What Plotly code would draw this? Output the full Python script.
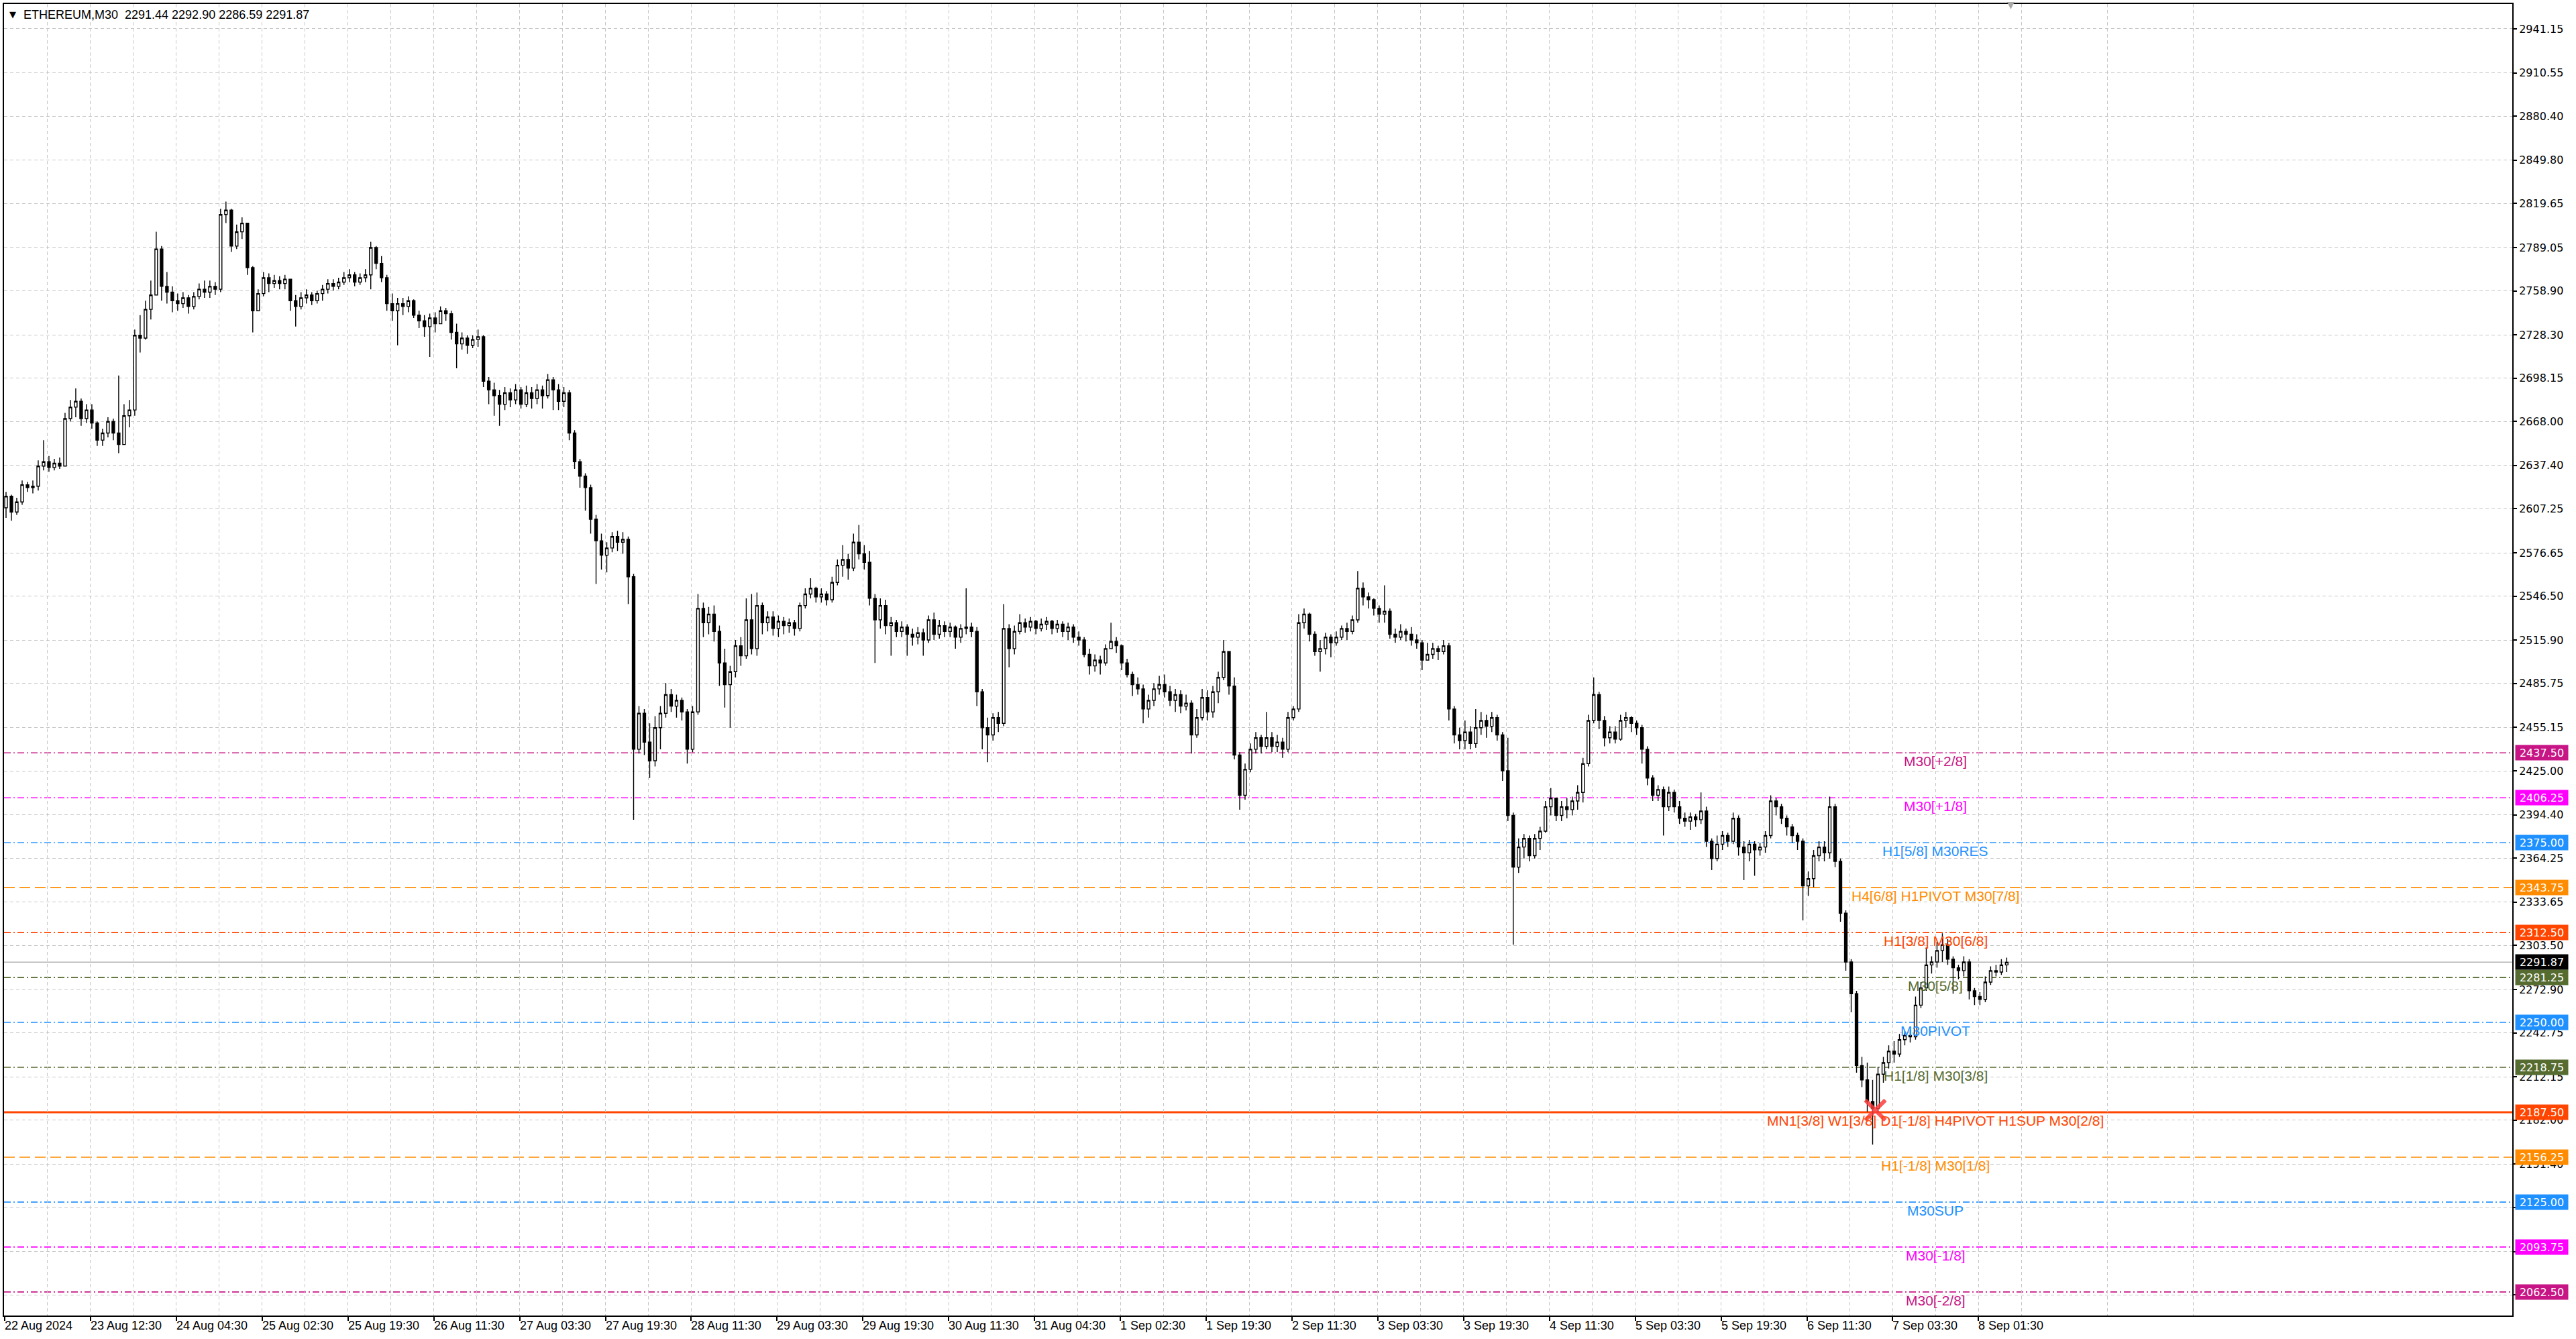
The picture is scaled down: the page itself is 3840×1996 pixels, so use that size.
import plotly.graph_objects as go

# ---------------- data (hourly candles over the M30 bar grid) ----------------
first_open = 2608

close_prices = [
    2616, 2605, 2612, 2624, 2622, 2623, 2637, 2640, 2636, 2639, 2637, 2670, 2678, 2682, 2670, 2676,
    2667, 2655, 2660, 2668, 2660, 2652, 2672, 2676, 2728, 2726, 2746, 2756, 2788, 2762, 2758, 2752,
    2750, 2754, 2748, 2755, 2760, 2758, 2762, 2760, 2812, 2815, 2790, 2800, 2806, 2775, 2745, 2757,
    2768, 2764, 2766, 2764, 2767, 2752, 2748, 2754, 2756, 2752, 2757, 2760, 2764, 2762, 2765, 2768,
    2770, 2765, 2768, 2770, 2789, 2778, 2768, 2750, 2745, 2750, 2748, 2752, 2742, 2738, 2734, 2740,
    2736, 2745, 2743, 2730, 2722, 2726, 2721, 2725, 2727, 2696, 2690, 2686, 2680, 2688, 2683, 2690,
    2680, 2688, 2684, 2690, 2686, 2697, 2690, 2682, 2688, 2660, 2640, 2630, 2622, 2600, 2585, 2575,
    2580, 2588, 2584, 2586, 2560, 2440, 2465, 2445, 2432, 2455, 2465, 2478, 2470, 2474, 2466, 2440,
    2466, 2538, 2528, 2534, 2522, 2500, 2485, 2494, 2512, 2505, 2530, 2510, 2540, 2528, 2532, 2524,
    2529, 2526, 2528, 2524, 2540, 2548, 2552, 2546, 2548, 2544, 2556, 2568, 2572, 2566, 2584, 2576,
    2570, 2545, 2530, 2540, 2526, 2528, 2522, 2525, 2520, 2518, 2521, 2516, 2530, 2520, 2526, 2522,
    2525, 2518, 2524, 2525, 2522, 2480, 2455, 2450, 2462, 2458, 2524, 2510, 2522, 2528, 2525, 2529,
    2524, 2527, 2529, 2524, 2527, 2522, 2525, 2518, 2516, 2506, 2498, 2502, 2500, 2510, 2515, 2512,
    2500, 2492, 2485, 2482, 2468, 2474, 2482, 2485, 2480, 2474, 2478, 2470, 2472, 2450, 2462, 2476,
    2466, 2480, 2490, 2508, 2484, 2436, 2408, 2426, 2440, 2448, 2442, 2448, 2442, 2445, 2440, 2462,
    2468, 2528, 2534, 2520, 2508, 2510, 2518, 2514, 2518, 2524, 2522, 2530, 2552, 2546, 2544, 2538,
    2534, 2536, 2520, 2518, 2522, 2520, 2516, 2514, 2502, 2506, 2510, 2508, 2512, 2468, 2450, 2446,
    2452, 2444, 2455, 2460, 2456, 2462, 2450, 2425, 2394, 2358, 2372, 2378, 2366, 2378, 2383, 2400,
    2406, 2394, 2400, 2398, 2404, 2410, 2430, 2460, 2478, 2460, 2448, 2452, 2447, 2460, 2462, 2458,
    2455, 2440, 2420, 2408, 2412, 2400, 2410, 2400, 2392, 2390, 2393, 2391, 2397, 2376, 2364, 2374,
    2380, 2376, 2392, 2372, 2368, 2374, 2370, 2372, 2380, 2404, 2400, 2392, 2386, 2380, 2376, 2345,
    2350, 2366, 2372, 2368, 2400, 2362, 2326, 2292, 2270, 2220, 2210, 2195, 2190, 2214, 2222, 2230,
    2228, 2238, 2241, 2240, 2262, 2274, 2290, 2292, 2300, 2304, 2294, 2288, 2286, 2292, 2272, 2268,
    2266, 2278, 2286, 2285, 2290, 2291.87,
]

high_prices = [
    2619, 2617, 2615, 2627, 2626, 2627, 2641, 2655, 2644, 2642, 2643, 2674, 2683, 2691, 2684, 2680,
    2680, 2668, 2663, 2671, 2670, 2700, 2680, 2683, 2732, 2742, 2752, 2766, 2800, 2790, 2772, 2762,
    2757, 2758, 2756, 2758, 2764, 2766, 2766, 2765, 2816, 2821, 2816, 2805, 2810, 2806, 2776, 2760,
    2772, 2771, 2770, 2769, 2770, 2766, 2756, 2758, 2760, 2758, 2759, 2763, 2767, 2767, 2768, 2772,
    2774, 2772, 2771, 2774, 2793, 2790, 2783, 2770, 2757, 2754, 2754, 2755, 2753, 2745, 2742, 2743,
    2744, 2748, 2747, 2745, 2736, 2730, 2728, 2728, 2732, 2728, 2699, 2695, 2690, 2692, 2691, 2694,
    2692, 2693, 2692, 2694, 2693, 2701, 2699, 2694, 2692, 2690, 2662, 2642, 2632, 2624, 2603, 2590,
    2584, 2591, 2592, 2591, 2588, 2562, 2470, 2468, 2458, 2463, 2470, 2486, 2482, 2478, 2476, 2468,
    2470, 2548, 2542, 2539, 2540, 2526, 2510, 2498, 2516, 2518, 2545, 2548, 2549, 2542, 2536, 2536,
    2533, 2532, 2531, 2530, 2542, 2552, 2559, 2553, 2552, 2550, 2560, 2572, 2582, 2576, 2590, 2596,
    2582, 2578, 2548, 2545, 2544, 2532, 2530, 2529, 2527, 2524, 2525, 2524, 2533, 2535, 2530, 2529,
    2528, 2526, 2527, 2552, 2528, 2525, 2482, 2462, 2465, 2466, 2541, 2527, 2526, 2534, 2531, 2532,
    2530, 2531, 2532, 2530, 2530, 2529, 2528, 2527, 2522, 2518, 2510, 2506, 2505, 2513, 2528, 2518,
    2513, 2503, 2494, 2490, 2485, 2478, 2486, 2491, 2492, 2484, 2482, 2481, 2478, 2474, 2468, 2482,
    2481, 2484, 2494, 2516, 2506, 2490, 2438, 2430, 2444, 2452, 2450, 2466, 2452, 2450, 2448, 2466,
    2470, 2534, 2538, 2535, 2522, 2516, 2521, 2520, 2522, 2526, 2528, 2533, 2564, 2556, 2549, 2545,
    2540, 2554, 2538, 2524, 2527, 2524, 2525, 2520, 2516, 2514, 2514, 2512, 2516, 2514, 2470, 2455,
    2460, 2456, 2468, 2466, 2464, 2466, 2464, 2452, 2448, 2396, 2378, 2381, 2380, 2381, 2386, 2404,
    2413, 2406, 2404, 2406, 2407, 2415, 2434, 2464, 2490, 2480, 2463, 2456, 2456, 2464, 2466, 2463,
    2460, 2457, 2442, 2422, 2415, 2414, 2414, 2412, 2404, 2396, 2396, 2395, 2410, 2400, 2378, 2380,
    2383, 2382, 2396, 2394, 2376, 2377, 2376, 2375, 2383, 2408, 2406, 2402, 2394, 2388, 2382, 2378,
    2355, 2370, 2376, 2376, 2407, 2402, 2364, 2328, 2294, 2272, 2226, 2222, 2210, 2219, 2226, 2234,
    2237, 2242, 2244, 2245, 2268, 2278, 2302, 2296, 2306, 2312, 2308, 2296, 2290, 2296, 2294, 2274,
    2271, 2282, 2289, 2290, 2294, 2295,
]

low_prices = [
    2601, 2599, 2603, 2610, 2619, 2618, 2620, 2634, 2633, 2634, 2635, 2637, 2668, 2671, 2665, 2667,
    2663, 2651, 2651, 2657, 2655, 2646, 2652, 2664, 2672, 2716, 2725, 2739, 2760, 2752, 2750, 2744,
    2745, 2747, 2743, 2746, 2753, 2754, 2754, 2756, 2758, 2806, 2786, 2788, 2795, 2770, 2730, 2745,
    2755, 2758, 2761, 2760, 2760, 2745, 2734, 2746, 2750, 2749, 2750, 2752, 2757, 2759, 2760, 2763,
    2765, 2762, 2763, 2765, 2760, 2774, 2765, 2745, 2738, 2721, 2742, 2744, 2740, 2733, 2727, 2713,
    2730, 2736, 2738, 2725, 2705, 2718, 2715, 2719, 2720, 2692, 2680, 2672, 2665, 2676, 2678, 2680,
    2677, 2678, 2677, 2680, 2677, 2684, 2676, 2676, 2678, 2655, 2635, 2622, 2606, 2590, 2555, 2565,
    2563, 2577, 2578, 2576, 2541, 2391, 2437, 2436, 2420, 2428, 2440, 2462, 2466, 2462, 2460, 2430,
    2438, 2464, 2518, 2520, 2515, 2484, 2469, 2455, 2490, 2498, 2503, 2506, 2505, 2520, 2522, 2519,
    2518, 2520, 2521, 2519, 2522, 2538, 2545, 2542, 2542, 2540, 2542, 2554, 2560, 2558, 2564, 2572,
    2565, 2540, 2500, 2524, 2520, 2505, 2518, 2518, 2505, 2512, 2513, 2505, 2514, 2516, 2517, 2518,
    2518, 2510, 2514, 2520, 2518, 2470, 2440, 2431, 2446, 2452, 2456, 2497, 2506, 2520, 2521, 2522,
    2520, 2522, 2523, 2520, 2521, 2518, 2516, 2514, 2512, 2504, 2492, 2494, 2492, 2498, 2510, 2507,
    2495, 2490, 2477, 2478, 2458, 2462, 2470, 2478, 2476, 2470, 2466, 2465, 2467, 2437, 2448, 2460,
    2460, 2462, 2472, 2488, 2478, 2433, 2398, 2405, 2424, 2437, 2437, 2440, 2438, 2438, 2434, 2438,
    2460, 2466, 2524, 2515, 2505, 2494, 2506, 2504, 2512, 2516, 2516, 2520, 2528, 2540, 2538, 2533,
    2528, 2528, 2517, 2514, 2516, 2515, 2512, 2510, 2495, 2502, 2503, 2502, 2506, 2460, 2444, 2440,
    2440, 2440, 2441, 2450, 2448, 2452, 2446, 2418, 2390, 2304, 2354, 2364, 2362, 2364, 2370, 2382,
    2394, 2390, 2390, 2392, 2394, 2398, 2403, 2428, 2458, 2454, 2442, 2444, 2444, 2446, 2455, 2452,
    2450, 2430, 2415, 2404, 2404, 2380, 2397, 2396, 2388, 2386, 2384, 2386, 2388, 2372, 2356, 2362,
    2370, 2372, 2374, 2366, 2349, 2362, 2352, 2366, 2368, 2378, 2394, 2388, 2380, 2375, 2370, 2321,
    2338, 2344, 2362, 2362, 2364, 2358, 2320, 2286, 2257, 2215, 2205, 2188, 2165, 2188, 2208, 2218,
    2222, 2226, 2234, 2236, 2238, 2260, 2272, 2284, 2288, 2292, 2290, 2270, 2280, 2282, 2266, 2262,
    2262, 2264, 2276, 2282, 2283, 2285,
]

last_bar_ohlc = [2291.44, 2292.90, 2286.59, 2291.87]
current_price = 2291.87

signal_bar = [697.5]
signal_price = [2189.0]

level_values = [2437.50, 2406.25, 2375.00, 2343.75, 2312.50, 2281.25, 2250.00,
                2218.75, 2187.50, 2156.25, 2125.00, 2093.75, 2062.50]
level_texts = ["M30[+2/8]", "M30[+1/8]", "H1[5/8] M30RES", "H4[6/8] H1PIVOT M30[7/8]",
               "H1[3/8] M30[6/8]", "M30[5/8]", "M30PIVOT", "H1[1/8] M30[3/8]",
               "MN1[3/8] W1[3/8] D1[-1/8] H4PIVOT H1SUP M30[2/8]", "H1[-1/8] M30[1/8]",
               "M30SUP", "M30[-1/8]", "M30[-2/8]"]
level_colors = ["#C71585", "#FF00FF", "#1E90FF", "#FF8C00", "#FF4500", "#556B2F", "#1E90FF",
                "#556B2F", "#FF4500", "#FF8C00", "#1E90FF", "#FF00FF", "#C71585"]
level_styles = ["dashdot", "dashdot", "dashdot", "dash", "dashdot", "dashdot", "dashdot",
                "dashdot", "solid", "dash", "dashdot", "dashdot", "dashdot"]

y_ticks = [2941.15, 2910.55, 2880.40, 2849.80, 2819.65, 2789.05, 2758.90, 2728.30, 2698.15,
           2668.00, 2637.40, 2607.25, 2576.65, 2546.50, 2515.90, 2485.75, 2455.15, 2425.00,
           2394.40, 2364.25, 2333.65, 2303.50, 2272.90, 2242.75, 2212.15, 2182.00, 2151.40,
           2121.25, 2090.65, 2060.50]
# tick labels that sit completely behind a level price box in the reference
hidden_tick_labels = [2121.25, 2090.65, 2060.50]

date_labels = ["22 Aug 2024", "23 Aug 12:30", "24 Aug 04:30", "25 Aug 02:30", "25 Aug 19:30",
               "26 Aug 11:30", "27 Aug 03:30", "27 Aug 19:30", "28 Aug 11:30", "29 Aug 03:30",
               "29 Aug 19:30", "30 Aug 11:30", "31 Aug 04:30", "1 Sep 02:30", "1 Sep 19:30",
               "2 Sep 11:30", "3 Sep 03:30", "3 Sep 19:30", "4 Sep 11:30", "5 Sep 03:30",
               "5 Sep 19:30", "6 Sep 11:30", "7 Sep 03:30", "8 Sep 01:30"]

# ---------------- derived ----------------
BARS_PER_CANDLE = 2      # each drawn candle covers two M30 bars
BARS_PER_LABEL = 32
BARS_PER_GRID = 16
LABEL_BAR = 720          # where the level captions are centred

n = len(close_prices)
x_pos = [BARS_PER_CANDLE * j + 0.5 for j in range(n)]
open_prices = [first_open] + close_prices[:-1]
high_adj = [max(h, o, c) for h, o, c in zip(high_prices, open_prices, close_prices)]
low_adj = [min(l, o, c) for l, o, c in zip(low_prices, open_prices, close_prices)]

label_bars = [BARS_PER_LABEL * i for i in range(len(date_labels))]
minor_bars = [b + BARS_PER_GRID for b in label_bars] + [label_bars[-1] + 3 * BARS_PER_GRID,
                                                        label_bars[-1] + 5 * BARS_PER_GRID]

dash_map = {"dashdot": "10px,4px,2px,4px", "dash": "16px,7px", "solid": "solid"}
width_map = {"dashdot": 1.6, "dash": 1.6, "solid": 3}

TEXTFONT = "Liberation Sans, Arial, sans-serif"
AXISFONT = "DejaVu Sans, Verdana, sans-serif"

fig = go.Figure()

fig.add_trace(go.Candlestick(
    x=x_pos, open=open_prices, high=high_adj, low=low_adj, close=close_prices,
    increasing=dict(line=dict(color="black", width=1.4), fillcolor="white"),
    decreasing=dict(line=dict(color="black", width=1.4), fillcolor="black"),
    whiskerwidth=0, hoverinfo="skip", showlegend=False,
))

fig.add_trace(go.Scatter(
    x=signal_bar, y=signal_price, mode="markers", hoverinfo="skip", showlegend=False,
    marker=dict(symbol="x-thin", size=30, line=dict(width=6, color="rgba(250,60,60,0.85)")),
))

shapes = []
annotations = []

# current price line
shapes.append(dict(type="line", xref="paper", x0=0, x1=1, yref="y", y0=current_price, y1=current_price,
                   line=dict(color="#b4b4b4", width=1.5), layer="between"))

for val, txt, col, sty in zip(level_values, level_texts, level_colors, level_styles):
    shapes.append(dict(type="line", xref="paper", x0=0, x1=1, yref="y", y0=val, y1=val,
                       line=dict(color=col, width=width_map[sty], dash=dash_map[sty]),
                       layer="between"))
    annotations.append(dict(x=LABEL_BAR, xref="x", y=val, yref="y", text=txt, showarrow=False,
                            xanchor="center", yanchor="top", yshift=1,
                            font=dict(family=TEXTFONT, size=21, color=col)))
    annotations.append(dict(x=1, xref="paper", y=val, yref="y", text=f"{val:.2f}", showarrow=False,
                            xanchor="left", yanchor="middle", xshift=4, bgcolor=col,
                            width=76, height=20, borderpad=1, align="center",
                            font=dict(family=AXISFONT, size=16, color="white")))

annotations.append(dict(x=1, xref="paper", y=current_price, yref="y", text=f"{current_price:.2f}",
                        showarrow=False, xanchor="left", yanchor="middle", xshift=4, bgcolor="black",
                        width=76, height=20, borderpad=1, align="center",
                        font=dict(family=AXISFONT, size=16, color="white")))

for b, lab in zip(label_bars, date_labels):
    annotations.append(dict(x=b, xref="x", y=0, yref="paper", text=lab, showarrow=False,
                            xanchor="left", yanchor="top", yshift=-3, xshift=-2,
                            font=dict(family=TEXTFONT, size=18, color="black")))

title_txt = "ETHEREUM,M30  " + " ".join(f"{v:.2f}" for v in last_bar_ohlc)
annotations.append(dict(x=0, xref="paper", y=1, yref="paper", text="▼", showarrow=False,
                        xanchor="left", yanchor="top", xshift=6, yshift=-6,
                        font=dict(family=AXISFONT, size=13, color="black")))
annotations.append(dict(x=0, xref="paper", y=1, yref="paper", text=title_txt, showarrow=False,
                        xanchor="left", yanchor="top", xshift=27, yshift=-4,
                        font=dict(family=TEXTFONT, size=18, color="black")))
# chart shift marker
annotations.append(dict(x=x_pos[-1] + 1.5, xref="x", y=1, yref="paper", text="▼", showarrow=False,
                        xanchor="center", yanchor="middle", yshift=-1,
                        font=dict(family=AXISFONT, size=14, color="#a8a8a8")))

grid_common = dict(gridcolor="#c6c6c6", griddash="5px,4px", gridwidth=1.4)

fig.update_layout(
    width=3840, height=1996,
    margin=dict(l=4, r=95, t=5, b=35),
    paper_bgcolor="white", plot_bgcolor="white",
    showlegend=False,
    shapes=shapes, annotations=annotations,
    xaxis=dict(
        range=[-0.25, 935], rangeslider=dict(visible=False), showticklabels=False,
        tickmode="array", tickvals=label_bars, ticks="outside", ticklen=6, tickcolor="black",
        tickwidth=1.5, showgrid=True, zeroline=False,
        showline=True, linecolor="black", linewidth=2, mirror=True,
        minor=dict(tickmode="array", tickvals=minor_bars, showgrid=True, ticks="",
                   gridcolor="#c6c6c6", griddash="5px,4px", gridwidth=1.4),
        fixedrange=True, **grid_common,
    ),
    yaxis=dict(
        side="right", range=[2046.1, 2958.4], tickmode="array", tickvals=y_ticks,
        ticktext=["" if v in hidden_tick_labels else f"{v:.2f}" for v in y_ticks],
        ticks="outside", ticklen=5, tickcolor="black",
        tickwidth=1.5, tickfont=dict(family=AXISFONT, size=16, color="black"),
        showgrid=True, zeroline=False,
        showline=True, linecolor="black", linewidth=2, mirror=True, fixedrange=True,
        **grid_common,
    ),
)

fig.write_html("out.html", config={"displayModeBar": False},
               post_script="document.body.style.margin='0';")
